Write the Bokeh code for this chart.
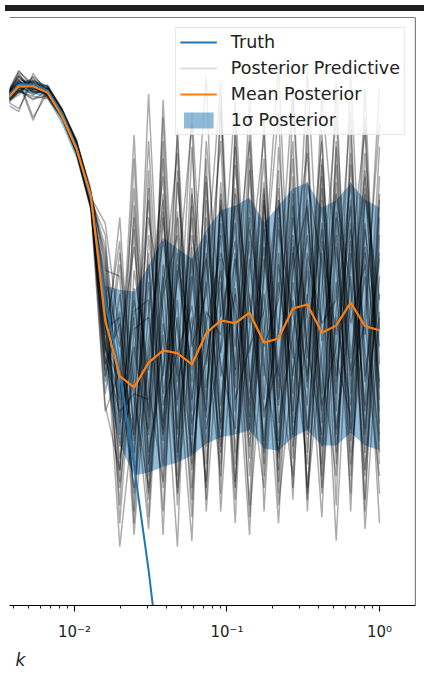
from bokeh.plotting import figure
from bokeh.models import (Range1d, FixedTicker, CustomJSTickFormatter, Span, Legend,
                          LegendItem, Title, ColumnDataSource, Div)
from bokeh.layouts import column
from bokeh.embed import file_html
from bokeh.resources import INLINE

# wavenumber grid (log spaced)
k = [0.003467, 0.004315, 0.005358, 0.006668, 0.008279, 0.01030, 0.01282, 0.01592,
     0.01982, 0.02460, 0.03062, 0.03811, 0.04732, 0.05888, 0.07311, 0.09099,
     0.1132, 0.1406, 0.1750, 0.2178, 0.2704, 0.3365, 0.4188, 0.5200, 0.6471,
     0.8035, 1.0]

# truth (arbitrary log-power units)
truth = [8.59, 8.86, 8.86, 8.76, 8.38, 7.81, 6.89, 5.19, 3.96, 2.38, 0.60, -1.45,
         -3.7, -6.0, -8.4, -10.9, -13.4, -16.0, -18.6, -21.2, -23.8, -26.4, -29.0,
         -31.6, -34.2, -36.8, -39.4]

# posterior mean
mean_post = [8.55, 8.83, 8.83, 8.72, 8.32, 7.77, 6.97, 4.85, 3.90, 3.71, 4.13, 4.34,
             4.29, 4.10, 4.63, 4.85, 4.80, 4.98, 4.47, 4.54, 5.05, 5.12, 4.64, 4.76,
             5.15, 4.75, 4.68]

# 1 sigma band
upper = [8.65, 8.95, 8.93, 8.84, 8.45, 7.91, 7.14, 5.44, 5.37, 5.34, 5.78, 6.26,
         6.07, 5.90, 6.38, 6.72, 6.80, 6.94, 6.51, 6.80, 7.09, 7.19, 6.77, 6.89,
         7.18, 6.90, 6.77]
lower = [8.45, 8.71, 8.71, 8.62, 8.18, 7.60, 6.72, 3.91, 2.72, 2.21, 2.26, 2.36,
         2.43, 2.55, 2.75, 2.86, 2.91, 2.98, 2.67, 2.63, 2.86, 2.98, 2.72, 2.72,
         2.94, 2.72, 2.64]

# posterior predictive draws
samples = [
    [8.62, 9.10, 8.80, 8.78, 8.40, 7.85, 6.95, 5.4, 2.1, 6.8, 3.2, 7.9, 2.5, 6.1, 1.8, 7.2, 4.0, 8.6, 2.2, 6.9, 3.1, 8.3, 2.4, 7.5, 3.6, 8.8, 2.9],
    [8.55, 8.40, 9.05, 8.70, 8.35, 7.75, 6.80, 4.6, 6.2, 1.6, 7.4, 2.8, 8.1, 3.3, 7.6, 1.9, 8.2, 3.0, 7.1, 2.3, 8.6, 3.8, 6.9, 1.7, 8.1, 2.6, 7.3],
    [8.65, 8.90, 8.25, 8.82, 8.45, 7.90, 7.00, 5.9, 3.4, 4.9, 1.5, 5.8, 3.9, 8.4, 4.1, 6.3, 2.1, 5.7, 8.0, 3.5, 6.0, 2.0, 5.4, 8.3, 4.2, 6.1, 3.8],
    [8.50, 8.75, 8.88, 8.68, 8.30, 7.70, 6.75, 4.1, 4.8, 2.6, 6.0, 1.2, 6.6, 2.0, 5.7, 8.9, 3.3, 6.4, 4.9, 1.4, 5.9, 7.7, 3.1, 5.5, 1.9, 7.0, 5.2],
    [8.60, 8.45, 8.92, 8.74, 8.36, 7.82, 6.90, 6.3, 2.9, 7.6, 2.4, 4.6, 1.0, 7.1, 3.0, 4.4, 6.8, 2.2, 5.6, 8.4, 2.7, 5.2, 7.9, 3.3, 9.0, 3.9, 6.0],
    [8.58, 9.05, 8.70, 8.80, 8.42, 7.88, 6.98, 3.6, 5.3, 3.0, 8.7, 3.6, 5.2, 1.5, 6.9, 3.4, 5.6, 7.9, 1.6, 5.8, 4.2, 9.1, 4.5, 6.3, 2.4, 5.0, 8.2],
    [8.63, 8.95, 8.30, 8.72, 8.33, 7.76, 6.86, 5.0, 1.7, 5.7, 4.0, 6.9, 2.9, 5.4, 9.0, 2.6, 7.0, 4.3, 6.1, 3.7, 7.3, 1.6, 6.2, 4.6, 6.8, 1.3, 4.9],
    [8.52, 8.82, 8.98, 8.66, 8.39, 7.79, 6.93, 4.4, 3.8, 2.0, 5.0, 7.3, 3.5, 6.6, 2.4, 5.9, 1.4, 6.9, 3.9, 7.4, 1.8, 6.7, 4.0, 2.2, 7.7, 4.3, 2.2],
    [8.57, 8.77, 8.60, 8.77, 8.37, 7.84, 6.84, 5.6, 4.4, 6.1, 3.7, 2.1, 7.2, 4.4, 5.3, 7.9, 2.6, 5.3, 2.8, 6.4, 5.0, 3.4, 8.7, 5.8, 3.0, 7.4, 3.3],
    [8.61, 9.00, 8.76, 8.85, 8.44, 7.86, 6.96, 4.8, 2.5, 3.9, 6.6, 5.0, 2.0, 5.9, 3.5, 6.8, 4.8, 1.2, 6.8, 4.6, 7.9, 2.9, 5.0, 7.0, 5.4, 2.2, 6.6],
    [8.54, 8.84, 8.90, 8.64, 8.31, 7.73, 6.82, 3.9, 5.0, 1.2, 4.5, 6.2, 4.7, 2.6, 7.9, 4.9, 6.2, 3.6, 5.3, 2.8, 6.6, 4.9, 1.5, 6.7, 4.8, 5.8, 1.9],
    [8.59, 8.86, 8.84, 8.79, 8.41, 7.80, 6.88, 6.0, 3.1, 4.4, 2.9, 8.3, 3.0, 7.0, 4.5, 2.2, 7.5, 4.8, 7.6, 3.1, 4.6, 6.3, 3.6, 8.9, 2.6, 6.4, 4.4],
    [8.66, 9.00, 8.74, 8.71, 8.34, 7.74, 6.78, 4.3, 6.6, 2.8, 5.5, 3.0, 6.0, 3.8, 6.3, 4.1, 3.0, 8.0, 4.4, 5.2, 8.8, 4.2, 7.1, 3.8, 6.2, 3.4, 7.8],
    [8.56, 8.79, 8.93, 8.83, 8.43, 7.91, 7.02, 5.2, 2.3, 5.4, 1.9, 5.4, 7.7, 2.4, 4.8, 6.0, 5.0, 2.7, 5.7, 9.2, 3.6, 5.7, 2.7, 5.0, 7.2, 3.0, 5.6],
    [8.49, 8.74, 8.66, 8.62, 8.28, 7.68, 6.72, 3.3, 4.0, 7.1, 2.6, 4.0, 5.5, 8.2, 1.6, 5.1, 8.6, 3.9, 2.0, 6.0, 2.5, 7.2, 5.8, 1.1, 5.9, 8.1, 3.5],
    [8.64, 8.91, 8.79, 8.69, 8.38, 7.83, 6.92, 4.9, 1.0, 3.3, 7.9, 3.4, 4.3, 5.1, 3.2, 8.4, 3.7, 5.9, 3.3, 4.1, 6.3, 2.6, 7.6, 4.2, 3.2, 7.7, 4.1],
    [8.60, 8.88, 8.81, 8.75, 8.39, 7.81, 6.91, 5.3, 3.6, 8.0, 3.0, 5.6, 2.2, 7.8, 3.7, 5.5, 2.0, 7.4, 3.5, 6.6, 2.0, 5.9, 3.3, 7.8, 2.8, 6.5, 3.1],
    [8.58, 8.72, 8.95, 8.77, 8.36, 7.79, 6.87, 4.5, 2.0, 4.2, 6.9, 2.4, 7.4, 2.9, 6.0, 3.1, 7.8, 2.5, 6.4, 3.4, 7.0, 1.8, 6.5, 3.9, 6.9, 1.8, 6.3],
    [8.62, 8.93, 8.72, 8.80, 8.41, 7.84, 6.94, 6.5, 4.6, 1.9, 4.2, 7.0, 1.7, 6.3, 4.8, 2.7, 6.0, 3.2, 8.3, 1.9, 5.5, 3.9, 7.5, 2.6, 6.4, 4.6, 8.8],
    [8.53, 8.81, 8.87, 8.69, 8.33, 7.75, 6.83, 3.8, 5.8, 3.5, 2.0, 6.6, 4.2, 1.1, 7.2, 3.9, 5.3, 1.7, 6.9, 4.0, 2.2, 8.0, 2.0, 6.1, 4.0, 5.6, 1.4],
    [8.61, 9.02, 8.78, 8.73, 8.37, 7.80, 6.89, 5.1, 2.7, 5.0, 5.2, 1.6, 5.8, 4.6, 2.0, 7.0, 3.9, 6.2, 2.4, 7.8, 4.4, 2.4, 7.3, 3.0, 5.6, 2.9, 6.9],
    [8.56, 8.68, 9.00, 8.78, 8.40, 7.87, 6.97, 4.2, 3.3, 3.6, 3.5, 7.6, 2.6, 5.6, 3.3, 8.6, 2.4, 4.7, 7.2, 2.1, 6.8, 4.4, 2.9, 7.2, 1.6, 7.1, 3.7],
    [8.59, 8.85, 8.68, 8.81, 8.43, 7.89, 7.01, 5.7, 5.6, 1.4, 6.3, 3.9, 8.0, 2.3, 5.0, 4.6, 6.5, 1.5, 4.6, 6.9, 3.3, 6.0, 4.8, 5.2, 8.4, 2.3, 5.0],
    [8.64, 8.97, 8.83, 8.70, 8.35, 7.77, 6.85, 3.4, 2.3, 6.4, 1.8, 4.8, 3.4, 6.8, 2.7, 6.5, 4.4, 6.6, 2.6, 5.5, 3.9, 6.9, 1.9, 4.9, 3.4, 8.3, 2.6],
    [8.51, 8.78, 8.82, 8.66, 8.30, 7.72, 6.80, 4.7, 4.9, 2.4, 7.1, 2.0, 5.7, 4.0, 7.3, 1.6, 5.4, 3.4, 7.0, 2.5, 5.2, 3.0, 6.0, 3.6, 7.5, 3.8, 5.9],
    [8.63, 8.89, 8.91, 8.76, 8.42, 7.86, 6.95, 5.5, 3.2, 5.2, 3.3, 6.7, 1.9, 4.7, 5.9, 3.0, 7.1, 5.2, 3.2, 4.7, 7.6, 1.9, 4.3, 6.6, 2.2, 6.0, 2.4],
    [8.57, 8.80, 8.74, 8.72, 8.38, 7.83, 6.91, 4.0, 6.0, 3.8, 1.3, 5.3, 6.3, 3.1, 4.2, 5.7, 1.8, 7.6, 4.1, 2.6, 5.7, 6.8, 3.4, 4.4, 6.5, 1.6, 7.0],
    [8.60, 9.08, 8.86, 8.84, 8.44, 7.92, 7.03, 5.8, 1.4, 4.7, 4.9, 2.9, 4.9, 1.8, 6.6, 4.3, 5.9, 2.9, 6.6, 1.7, 4.0, 5.3, 2.2, 7.9, 3.9, 4.8, 2.8],
    [8.55, 8.76, 8.62, 8.67, 8.32, 7.71, 6.77, 4.4, 3.5, 6.6, 2.2, 8.6, 3.8, 4.9, 2.1, 6.9, 3.5, 4.4, 5.0, 7.1, 2.9, 4.6, 6.4, 2.9, 5.1, 7.3, 4.7],
    [8.62, 8.87, 8.77, 8.79, 8.40, 7.85, 6.94, 6.1, 4.1, 2.9, 5.8, 3.1, 6.7, 3.5, 5.5, 2.4, 8.0, 3.8, 5.9, 3.9, 6.1, 3.7, 8.1, 2.4, 6.0, 3.3, 5.3],
]

major_ticks = [0.01, 0.1, 1.0]
minor_ticks = [0.004, 0.005, 0.006, 0.007, 0.008, 0.009,
               0.02, 0.03, 0.04, 0.05, 0.06, 0.07, 0.08, 0.09,
               0.2, 0.3, 0.4, 0.5, 0.6, 0.7, 0.8, 0.9]

FONT = "DejaVu Sans"

p = figure(width=424, height=681, x_axis_type="log",
           x_range=Range1d(0.00375, 1.722), y_range=Range1d(0, 10),
           output_backend="svg", toolbar_location=None,
           min_border_left=9, min_border_right=9, min_border_top=17, min_border_bottom=76)
p.outline_line_color = None
p.grid.visible = False
p.yaxis.visible = False
p.background_fill_color = "white"
p.border_fill_color = "white"

xa = p.xaxis[0]
xa.ticker = FixedTicker(ticks=major_ticks, minor_ticks=minor_ticks)
xa.formatter = CustomJSTickFormatter(code="""
const sup = {"-":"\u207b","0":"\u2070","1":"\u00b9","2":"\u00b2","3":"\u00b3","4":"\u2074","5":"\u2075","6":"\u2076","7":"\u2077","8":"\u2078","9":"\u2079"};
const e = Math.round(Math.log10(tick));
return "10" + String(e).split("").map(c => sup[c]).join("");
""")
xa.axis_line_color = "black"
xa.axis_line_width = 1.2
xa.major_tick_in = 0
xa.major_tick_out = 6
xa.minor_tick_in = 0
xa.minor_tick_out = 3
xa.major_tick_line_width = 1.1
xa.minor_tick_line_width = 0.9
xa.major_label_text_font = FONT
xa.major_label_text_font_size = "15px"
xa.major_label_text_color = "#222222"
xa.major_label_standoff = 11

p.add_layout(Span(location=10, dimension="width", line_color="black", line_width=1.2))
p.add_layout(Span(location=1.722, dimension="height", line_color="black", line_width=1.2))

src = ColumnDataSource(dict(k=k, lower=lower, upper=upper, mean=mean_post, truth=truth))
key_src = ColumnDataSource(dict(x=[float("nan")], y=[float("nan")]))

r_band = p.varea(x="k", y1="lower", y2="upper", source=src, fill_color="#1f77b4", fill_alpha=0.5)
r_samp = p.multi_line([k] * len(samples), samples, line_color="black", line_alpha=0.33,
                      line_width=1.5)
r_truth = p.line(x="k", y="truth", source=src, line_color="#1f77b4", line_width=2)
r_mean = p.line(x="k", y="mean", source=src, line_color="#ff7f0e", line_width=2.2)
# legend handle for the predictive draws (faint, like a low-alpha line)
r_samp_key = p.line(x="x", y="y", source=key_src, line_color="#dedede", line_width=2)

legend = Legend(items=[
    LegendItem(label="Truth", renderers=[r_truth]),
    LegendItem(label="Posterior Predictive", renderers=[r_samp_key]),
    LegendItem(label="Mean Posterior", renderers=[r_mean]),
    LegendItem(label="1\u03c3 Posterior", renderers=[r_band]),
], location="top_right", margin=10, padding=4, spacing=6,
    glyph_width=37, glyph_height=20, label_height=20, label_standoff=14,
    label_text_font=FONT, label_text_font_size="17.5px", label_text_color="#222222",
    background_fill_color="white", background_fill_alpha=0.8,
    border_line_color="#d0d0d0", border_line_width=1)
p.add_layout(legend, "center")

p.add_layout(Title(text="k", align="left", text_font=FONT, text_font_style="italic",
                   text_font_size="17px", text_color="#222222", offset=6,
                   standoff=8), "below")

bar = Div(text="", width=424, height=6,
          styles={"position": "fixed", "top": "0px", "left": "0px",
                  "background-color": "#1e1e1e", "z-index": "10"})

layout = column(bar, p)
open("out.html", "w").write(file_html(layout, INLINE))
